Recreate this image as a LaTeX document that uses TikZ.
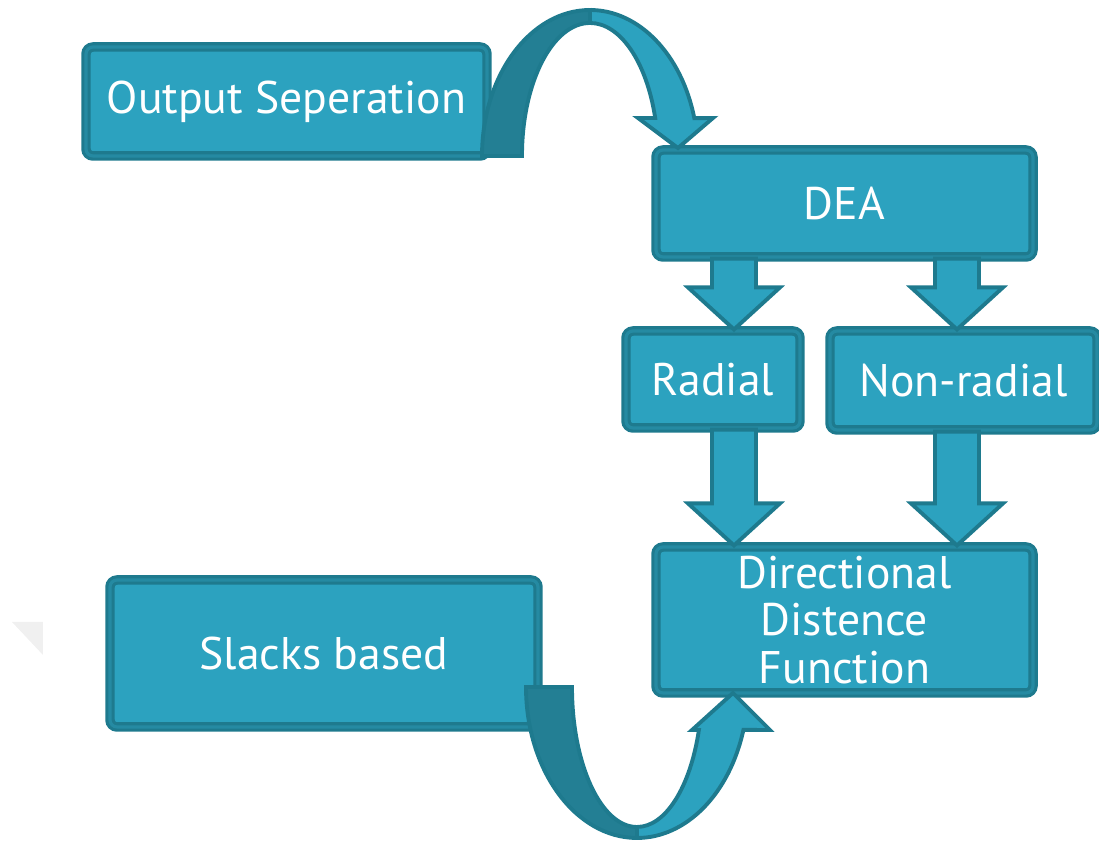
\documentclass[tikz,border=0pt]{standalone}
\usepackage{fontspec}
\setmainfont{PT Sans}
\usetikzlibrary{calc}

\definecolor{tealfill}{HTML}{2CA2BF}
\definecolor{tealline}{HTML}{1E7A8E}
\definecolor{tealshade}{HTML}{237F94}

% block arrow pointing down, from #1 to #2
\newcommand{\blockdown}[2]{%
  \draw[blockarrow] ($(#1)+(-0.22,0)$) -- ($(#2)+(-0.22,0.42)$) -- ($(#2)+(-0.46,0.42)$)
    -- (#2) -- ($(#2)+(0.46,0.42)$) -- ($(#2)+(0.22,0.42)$) -- ($(#1)+(0.22,0)$) -- cycle;}

\begin{document}
\begin{tikzpicture}[
    box/.style={rectangle, rounded corners=2pt, fill=tealfill, draw=tealline, line width=0.9pt,
                double=tealfill!85!black, double distance=0.9pt, inner sep=0pt,
                text=white, font=\fontsize{13}{13.5}\selectfont, align=center},
    blockarrow/.style={fill=tealfill, draw=tealline, line width=1.1pt, line join=miter},
    backarrow/.style={fill=tealshade, draw=tealline, line width=1.1pt, line join=miter},
  ]
                \useasboundingbox (0,0) rectangle (10.99,8.43);
                \fill[gray!12] (0.12,2.21) -- (0.43,2.21) -- (0.43,1.88) -- cycle;

                % Nodes
                \node[box, minimum width=4.01cm, minimum height=1.09cm] (outsep) at (2.865,7.415) {Output Seperation};
                \node[box, minimum width=3.77cm, minimum height=1.07cm] (dea) at (8.445,6.395) {DEA};
                \node[box, minimum width=1.74cm, minimum height=0.97cm] (radial) at (7.13,4.635) {Radial};
                \node[box, minimum width=2.67cm, minimum height=0.99cm] (nonrad) at (9.635,4.625) {Non-radial};
                \node[box, minimum width=3.77cm, minimum height=1.46cm] (ddf) at (8.445,2.23) {Directional\\Distence\\Function};
                \node[box, minimum width=4.28cm, minimum height=1.47cm] (slacks) at (3.24,1.895) {Slacks based};

                \coordinate (lc) at (7.34,0);
                \coordinate (rc) at (9.57,0);

                % Edges
                \blockdown{dea.south -| lc}{radial.north -| lc}
                \blockdown{dea.south -| rc}{nonrad.north -| rc}
                \blockdown{radial.south -| lc}{ddf.north -| lc}
                \blockdown{nonrad.south -| rc}{ddf.north -| rc}

                % curved arrow, Output Seperation -> DEA
                \draw[backarrow] (4.82,6.87) arc[start angle=180, end angle=90, x radius=1.08, y radius=1.46]
                  -- (5.90,8.20) arc[start angle=90, end angle=180, x radius=0.68, y radius=1.33] -- cycle;
                \draw[blockarrow] (5.90,8.33) arc[start angle=90, end angle=15, x radius=1.08, y radius=1.46]
                  -- (7.13,7.25) -- (6.78,6.95) -- (6.38,7.25) -- (6.552,7.25)
                  arc[start angle=16.6, end angle=90, x radius=0.68, y radius=1.33] -- cycle;

                % curved arrow, Slacks based -> DDF
                \draw[backarrow] (5.26,1.56) arc[start angle=180, end angle=270, x radius=1.11, y radius=1.51]
                  -- (6.37,0.16) arc[start angle=270, end angle=180, x radius=0.65, y radius=1.40] -- cycle;
                \draw[blockarrow] (6.37,0.05) arc[start angle=270, end angle=343.5, x radius=1.11, y radius=1.51]
                  -- (7.70,1.13) -- (7.33,1.50) -- (6.92,1.13) -- (6.989,1.13)
                  arc[start angle=342.1, end angle=270, x radius=0.65, y radius=1.40] -- cycle;
            \end{tikzpicture}
\end{document}
